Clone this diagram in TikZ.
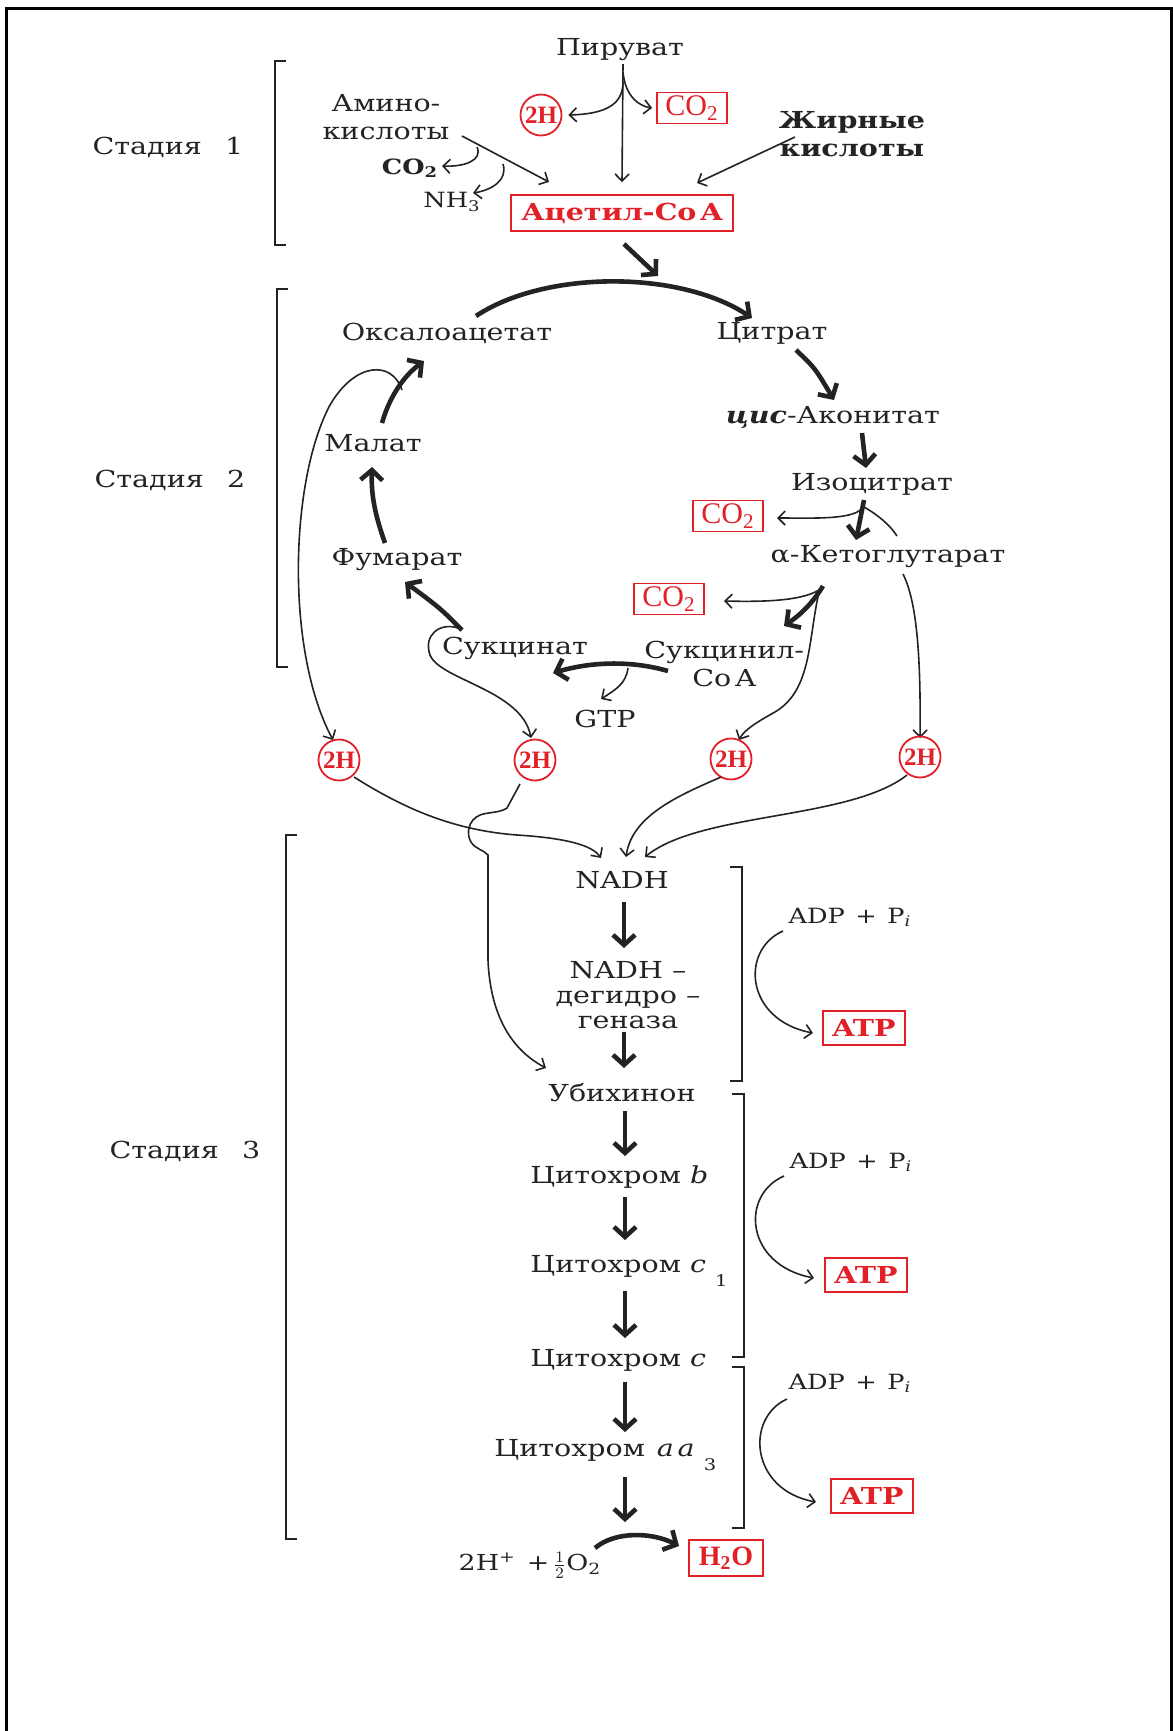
\documentclass[tikz,border=0pt]{standalone}
\usepackage{fontspec}
\setmainfont{DejaVu Serif}[FakeStretch=1.22]
\newfontfamily\redf{Liberation Serif}
\usetikzlibrary{arrows.meta}
\definecolor{rd}{RGB}{226,32,40}
\definecolor{ink}{RGB}{35,35,35}
\newcommand{\mainfs}{\fontsize{11.7}{14}\selectfont}
\newcommand{\smfs}{\fontsize{10.5}{12.5}\selectfont}
\tikzset{
  every node/.style={font=\mainfs, inner sep=1pt, text=ink},
  th/.style={draw=ink, line width=0.8pt, -{Straight Barb[length=3.5pt,width=7pt]}},
  tk/.style={draw=ink, line width=2.3pt, -{Straight Barb[length=5pt,width=11pt]}},
  rb/.style={draw=rd, line width=0.9pt, text=rd, inner sep=1.5pt},
  co/.style={rb, minimum width=35pt, minimum height=15.5pt, inner sep=0.5pt, font=\redf\fontsize{15}{16}\selectfont},
  hc/.style={circle, draw=rd, line width=0.9pt, text=rd, font=\redf\fontsize{12.5}{14}\selectfont\bfseries, inner sep=0pt, minimum size=20.5pt},
  brk/.style={draw=ink, line width=0.8pt},
  sm/.style={font=\smfs},
}
\begin{document}
\begin{tikzpicture}[x={(0.5pt,0)}, y={(0,-0.5pt)}]
\useasboundingbox[fill=white] (0,0) rectangle (1173,1731);
% frame
\draw[line width=1.5pt] (6,1731) -- (6,8) -- (1171,8) -- (1171,1731);

% ---------- Stage 1 ----------
\node (st1) at (168,147) {Стадия\quad 1};
\draw[brk] (286,61) -- (275,61) -- (275,245) -- (286,245);
\node (pyr) at (620,50) {Пируват};
\node[hc] (h2a) at (541,115) {2H};
\node[co] (co2a) at (692,108) {CO\textsubscript{2}};
\node[align=center] (amino) at (386,117) {Амино-\\кислоты};
\node[sm] (co2b) at (410,168) {\bfseries CO\textsubscript{2}};
\node[sm] (nh3) at (452,202) {NH\textsubscript{3}};
\node[rb, minimum width=111pt, minimum height=18pt, font=\mainfs\bfseries] (acoa) at (622,213) {Ацетил-Co\,A};
\node[align=center, font=\mainfs\bfseries] (fatty) at (852,134) {Жирные\\кислоты};

\draw[th] (623,64) -- ([yshift=6pt]acoa.north);
\draw[th] (623,82) .. controls (623,105) and (605,114) .. ([xshift=3pt]h2a.east);
\draw[th] (623,72) .. controls (625,95) and (638,106) .. ([xshift=-2pt]co2a.west);
\draw[th] (795,137) -- (697,183);
\draw[th] (462,136) -- (549,182);
\draw[th] (477,147) .. controls (483,160) and (465,167) .. (442,166);
\draw[th] (503,164) .. controls (508,180) and (492,190) .. (473,193);

% ---------- Stage 2 ----------
\node (st2) at (170,480) {Стадия\quad 2};
\draw[brk] (288,289) -- (277,289) -- (277,667) -- (288,667);
\node (oaa) at (447,333) {Оксалоацетат};
\node (cit) at (772,333) {Цитрат};
\node (cisacon) at (833,417) {\textbf{\textit{цис}}-Аконитат};
\node (isocit) at (872,484) {Изоцитрат};
\node[co] (co2c) at (728,516) {CO\textsubscript{2}};
\node (akg) at (888,557) {α-Кетоглутарат};
\node[co] (co2d) at (669,599) {CO\textsubscript{2}};
\node[align=left, anchor=west] (sucoa) at (642,664) {Сукцинил-\\\hspace*{24pt}Co\,A};
\node (succ) at (515,648) {Сукцинат};
\node (gtp) at (605,719) {GTP};
\node (fum) at (397,560) {Фумарат};
\node (mal) at (373,443) {Малат};

\draw[tk] (624,244) -- (658,276);
\draw[tk] (476,316) .. controls (545,270) and (680,270) .. (752,318);
\draw[tk] (796,350) .. controls (815,368) .. (834,400);
\draw[tk] (862,433) -- (866,468);
\draw[tk] (864,500) -- (856,540);
\draw[th] (863,507) .. controls (855,520) and (815,518) .. (777,518);
\draw[line width=0.8pt, draw=ink] (864,507) .. controls (878,515) and (890,525) .. (897,536);
\draw[th] (903,574) .. controls (916,600) and (921,650) .. (920,738);
\draw[tk] (823,586) .. controls (812,604) and (800,615) .. (784,626);
\draw[th] (822,588) .. controls (805,601) and (765,602) .. (724,601);
\draw[th] (819,592) .. controls (808,640) and (812,690) .. (775,712) .. controls (757,722) and (744,730) .. (739,740);
\draw[tk] (668,671) .. controls (630,660) and (590,662) .. (553,673);
\draw[th] (628,668) .. controls (626,684) and (615,690) .. (601,699);
\draw[tk] (462,630) .. controls (440,608) .. (405,582);
\draw[th] (458,628) .. controls (440,622) and (423,635) .. (430,655) .. controls (440,680) and (522,690) .. (531,738);
\draw[tk] (385,543) .. controls (375,515) and (371,495) .. (372,467);
\draw[tk] (382,423) .. controls (390,395) and (405,375) .. (424,361);
\draw[th] (402,390) .. controls (392,360) and (355,362) .. (330,405) .. controls (290,480) and (285,650) .. (333,740);

% 2H row
\node[hc] (h2b) at (339,760) {2H};
\node[hc] (h2c) at (535,760) {2H};
\node[hc] (h2d) at (731,759) {2H};
\node[hc] (h2e) at (920,757) {2H};

% ---------- Stage 3 ----------
\node (st3) at (185,1151) {Стадия\quad 3};
\draw[brk] (297,835) -- (286,835) -- (286,1539) -- (297,1539);
\node (nadh) at (622,880) {NADH};
\node[align=center, font=\fontsize{11.7}{12.6}\selectfont] (ndh) at (628,995) {NADH –\\дегидро –\\геназа};
\node (ubi) at (622,1093) {Убихинон};
\node[anchor=west] (cytb) at (528,1177) {Цитохром \textit{b}};
\node[anchor=west] (cytc1) at (528,1271) {Цитохром \textit{c}\ \raisebox{-1.1ex}{\footnotesize 1}};
\node[anchor=west] (cytc) at (528,1360) {Цитохром \textit{c}};
\node[anchor=west] (cytaa) at (492,1455) {Цитохром\enspace \textit{a\,a}\ \raisebox{-1.1ex}{\footnotesize 3}};
\node[font=\fontsize{11}{13}\selectfont] (o2) at (530,1565) {2H\textsuperscript{+}\enspace+\,$\frac{1}{2}$O\textsubscript{2}};
\node[rb, minimum width=37pt, minimum height=18pt, font=\redf\fontsize{14}{16}\selectfont\bfseries] (h2o) at (726,1558) {H\textsubscript{2}O};

\draw[th] (354,777) .. controls (400,806) and (450,830) .. (517,835) .. controls (565,838) and (592,845) .. (601,858);
\draw[th] (520,784) -- (507,808) .. controls (500,813) and (488,812) .. (480,815) .. controls (468,820) and (466,834) .. (471,842) .. controls (475,849) and (484,850) .. (488,855) -- (488,960) .. controls (490,1010) and (508,1048) .. (546,1068);
\draw[th] (721,777) .. controls (680,795) and (632,815) .. (626,857);
\draw[th] (907,775) .. controls (850,820) and (700,812) .. (645,857);

\draw[tk] (624,902) -- (624,948);
\draw[tk] (624,1032) -- (624,1068);
\draw[tk] (625,1111) -- (625,1156);
\draw[tk] (625,1197) -- (625,1240);
\draw[tk] (625,1291) -- (625,1338);
\draw[tk] (625,1382) -- (625,1432);
\draw[tk] (625,1477) -- (625,1522);
\draw[tk] (595,1548) .. controls (615,1531) and (652,1532) .. (679,1546);

% right brackets
\draw[brk] (730,867) -- (742,867) -- (742,1081) -- (730,1081);
\draw[brk] (732,1094) -- (744,1094) -- (744,1357) -- (732,1357);
\draw[brk] (732,1367) -- (744,1367) -- (744,1528) -- (732,1528);

\node[sm] (adp1) at (850,917) {ADP\enspace+\enspace P\textsubscript{\textit{i}}};
\node[rb, minimum width=41pt, minimum height=17pt, font=\mainfs\bfseries] (atp1) at (864,1028) {ATP};
\node[sm] (adp2) at (851,1162) {ADP\enspace+\enspace P\textsubscript{\textit{i}}};
\node[rb, minimum width=41pt, minimum height=17pt, font=\mainfs\bfseries] (atp2) at (866,1275) {ATP};
\node[sm] (adp3) at (850,1383) {ADP\enspace+\enspace P\textsubscript{\textit{i}}};
\node[rb, minimum width=41pt, minimum height=17pt, font=\mainfs\bfseries] (atp3) at (872,1496) {ATP};

\draw[th] (783,931) .. controls (740,950) and (745,1020) .. (813,1033);
\draw[th] (784,1176) .. controls (740,1195) and (745,1265) .. (814,1278);
\draw[th] (787,1399) .. controls (745,1418) and (750,1490) .. (816,1502);
\end{tikzpicture}
\end{document}
